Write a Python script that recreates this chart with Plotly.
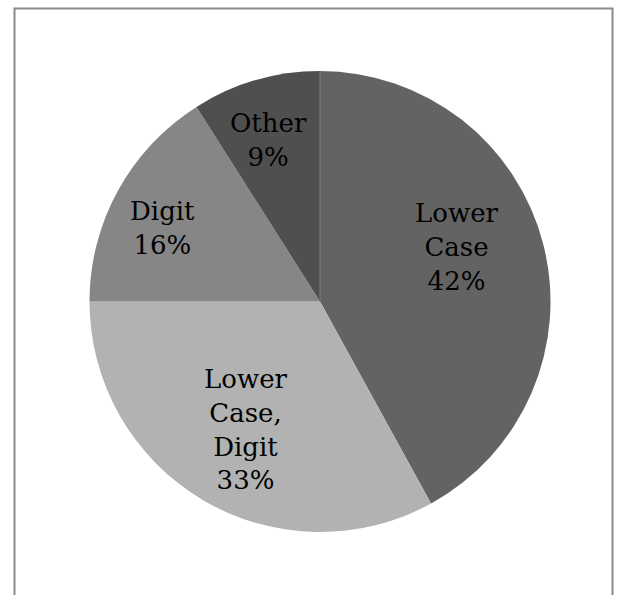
import plotly.graph_objects as go

# Character-class composition
labels = ["Lower Case", "Lower Case, Digit", "Digit", "Other"]
label_lines = ["Lower<br>Case", "Lower<br>Case,<br>Digit", "Digit", "Other"]
values = [42, 33, 16, 9]
colors = ["#636363", "#b2b2b2", "#868686", "#4f4f4f"]

W, H = 627, 595
cx, cy, r = 320, 301.5, 230.5  # pie centre and radius in pixels

# Label anchor points (pixels from top-left), one per slice
label_pos = [(457, 247), (246, 429), (162, 228), (268, 140)]

fig = go.Figure(
    go.Pie(
        labels=labels,
        values=values,
        sort=False,
        direction="clockwise",
        rotation=0,
        marker=dict(colors=colors, line=dict(width=0)),
        textinfo="none",
        showlegend=False,
        hoverinfo="label+percent",
        domain=dict(
            x=[(cx - r) / W, (cx + r) / W],
            y=[(H - cy - r) / H, (H - cy + r) / H],
        ),
    )
)

total = sum(values)
for txt, v, (px, py) in zip(label_lines, values, label_pos):
    fig.add_annotation(
        x=px / W, y=1 - py / H, xref="paper", yref="paper",
        text=f"{txt}<br>{round(100 * v / total)}%",
        showarrow=False, xanchor="center", yanchor="middle", align="center",
        font=dict(family="DejaVu Serif", size=26, color="black"),
    )

# Chart frame and the faint seam at 12 o'clock
fig.add_shape(
    type="rect", xref="paper", yref="paper",
    x0=14.5 / W, x1=612.5 / W, y0=-0.05, y1=1 - 8.5 / H,
    line=dict(color="#8a8a8a", width=2), fillcolor="rgba(0,0,0,0)",
)
fig.add_shape(
    type="line", xref="paper", yref="paper",
    x0=cx / W, x1=cx / W, y0=(H - cy) / H, y1=(H - cy + r) / H,
    line=dict(color="#7c7c7c", width=1), layer="above",
)

fig.update_layout(
    width=W, height=H,
    margin=dict(l=0, r=0, t=0, b=0),
    paper_bgcolor="white",
    plot_bgcolor="white",
)

fig.write_html("out.html")
